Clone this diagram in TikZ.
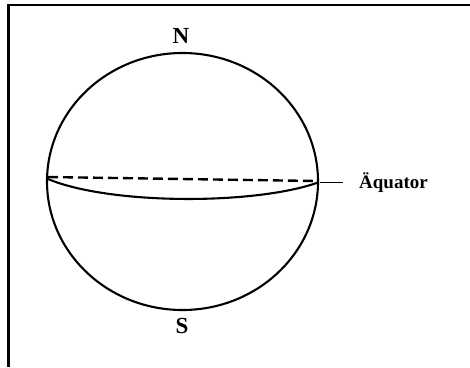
\documentclass[tikz,border=0pt]{standalone}
\usepackage{fontspec}
\setmainfont{Liberation Serif}
\begin{document}
\begin{tikzpicture}[x=1pt,y=-1pt,
  outline/.style={line width=2.1pt},
  lbl/.style={font=\bfseries\fontsize{19}{22}\selectfont, inner sep=0pt},
  pole/.style={font=\bfseries\fontsize{23}{26}\selectfont, inner sep=0pt}]
\useasboundingbox (0,0) rectangle (470,367);
% frame (top and left only)
\draw[line width=2.2pt] (8.5,367) -- (8.5,5) -- (470,5);
% sphere
\draw[outline] (182.5,181.5) ellipse [x radius=135.5, y radius=128.5];
% equator: back (dashed) and front (solid)
\coordinate (eqL) at (48,179);
\coordinate (eqR) at (318,182.5);
\draw[line width=2.4pt, dash pattern=on 10pt off 5pt] (48,177) -- (316,181);
\draw[outline] (eqL) .. controls (110,205) and (255,205) .. (eqR);
% labels
\node[pole] (N) at (181,36) {N};
\node[pole] (S) at (182,326) {S};
\node[lbl, anchor=west] (aq) at (359,182.5) {Äquator};
\coordinate (lead) at (320,182.5);
\draw[line width=1.2pt] (lead) -- (lead -| 343,0);
\end{tikzpicture}
\end{document}
